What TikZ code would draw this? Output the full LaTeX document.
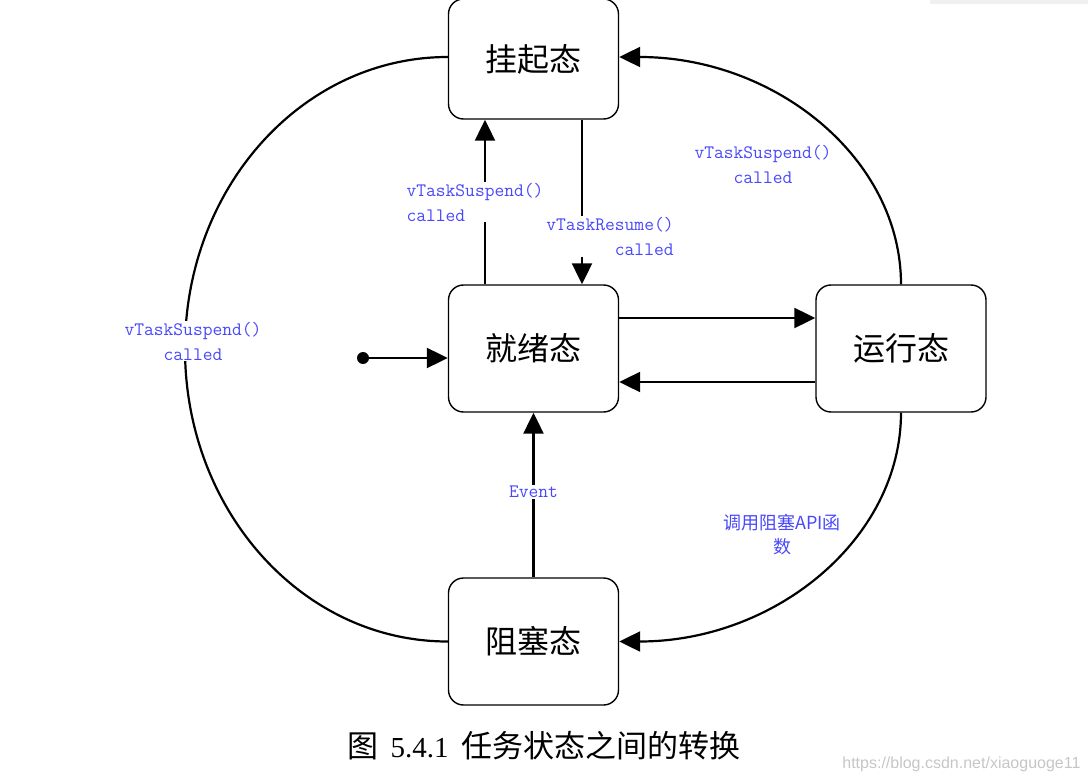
\documentclass[tikz,border=0pt]{standalone}
\usepackage{fontspec}
\newfontfamily\cjk{Noto Sans CJK SC}
\newfontfamily\capserif{Liberation Serif}
\newfontfamily\wmfont{Liberation Sans}
\usetikzlibrary{arrows.meta}
\definecolor{labelblue}{RGB}{72,72,250}
\tikzset{
  state/.style={draw, line width=1.4pt, rounded corners=15pt, minimum width=170pt,
    minimum height=127pt, font=\cjk\fontsize{32}{36}\selectfont},
  trans/.style={line width=2.2pt, -{Triangle[length=21pt,width=20pt]}},
  lbl/.style={text=labelblue, font=\ttfamily\fontsize{19}{25}\selectfont, inner sep=1pt},
}
\begin{document}
\begin{tikzpicture}[x=1pt,y=-1pt]
            \useasboundingbox (0,0) rectangle (1088,781);
            \fill[gray!12] (930,0) rectangle (1088,4);
            % the four states
            \node[state, minimum height=120pt] (suspend) at (533.5,59) {挂起态};
            \node[state] (ready) at (533.5,348.5) {就绪态};
            \node[state] (running) at (901,348.5) {运行态};
            \node[state] (blocked) at (533.5,641.5) {阻塞态};
            % start point
            \coordinate (init) at (363,358);
            \fill (init) circle (6pt);
            \draw[trans] (init) -- (init -| ready.west);
            % straight transitions
            \draw[trans] ([xshift=-48.5pt]ready.north) -- node[lbl, fill=white, align=left, xshift=-10pt, pos=0.5] {vTaskSuspend()\\called} ([xshift=-48.5pt]suspend.south);
            \draw[trans] ([xshift=48.5pt]suspend.south) -- node[lbl, fill=white, align=right, xshift=28pt, pos=0.71] {vTaskResume()\\called} ([xshift=48.5pt]ready.north);
            \draw[trans] ([yshift=30.5pt]ready.east) -- ([yshift=30.5pt]running.west);
            \draw[trans] ([yshift=-33.5pt]running.west) -- ([yshift=-33.5pt]ready.east);
            \draw[trans] (blocked.north) -- node[lbl, fill=white, pos=0.52] {Event} (ready.south);
            % curved transitions
            \coordinate (leftmost) at (185,349);
            \draw[line width=2.2pt] ([yshift=2pt]suspend.west) .. controls +(-146,0) and +(0,-161) .. (leftmost)
                .. controls +(0,161) and +(-146,0) .. (blocked.west);
            \node[lbl, fill=white, align=center] (leftlbl) at (193,341) {vTaskSuspend()\\called};
            \draw[trans] (running.north) .. controls +(0,-126) and +(156,0) .. ([yshift=2pt]suspend.east);
            \node[lbl, align=center] (toplbl) at (763,164) {vTaskSuspend()\\called};
            \draw[trans] (running.south) .. controls +(0,126) and +(156,0) .. (blocked.east);
            \node[lbl, align=center, font=\cjk\fontsize{18}{24}\selectfont] (bottomlbl) at (782,535) {调用阻塞API函\\数};
            % caption and watermark
            \node[font=\cjk\fontsize{31}{34}\selectfont] (caption) at (544,746) {图\hspace{12pt}{\capserif\fontsize{29}{30}\selectfont 5.4.1}\hspace{13pt}任务状态之间的转换};
            \node[text=gray!45, font=\wmfont\fontsize{16}{18}\selectfont, anchor=east] (mark) at (1084,764) {https://blog.csdn.net/xiaoguoge11};
\end{tikzpicture}
\end{document}
